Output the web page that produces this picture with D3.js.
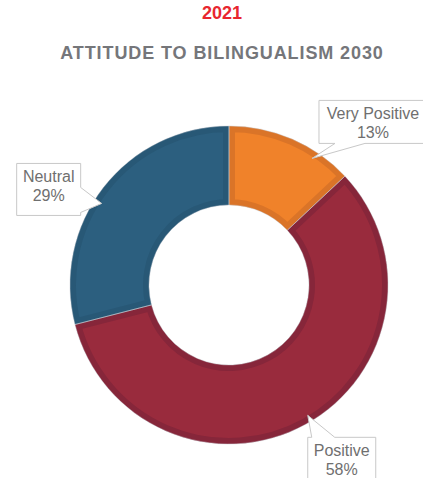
<!DOCTYPE html>
<html>
<head>
<meta charset="utf-8">
<script src="https://cdn.jsdelivr.net/npm/d3@7"></script>
<style>
  body { margin: 0; background: #fff; }
  text { font-family: "Liberation Sans", Arial, sans-serif; }
</style>
</head>
<body>
<div id="chart"></div>
<script>
// chart data
const categories = ["Very Positive", "Positive", "Neutral"];
const values = [13, 58, 29];
const colors = ["#F0822A", "#992B3D", "#2C5F7F"];
const borderColors = ["#DA7428", "#86263A", "#285876"];

// callout layout: tip nudge from the slice anchor, box offset from the tip, tail side
const callouts = [
  { tdx: 23, tdy: 12, dx: 7, dy: -58, w: 108, h: 43, side: "bottom" },
  { tdx: 6, tdy: -2, dx: 0, dy: 22, w: 68, h: 44, side: "top" },
  { tdx: -8, tdy: 11, dx: -85, dy: -40, w: 64, h: 52, side: "right" }
];

const width = 423, height = 478;
const cx = 229, cy = 285;
const outerR = 159, innerR = 80;

const svg = d3.select("#chart").append("svg")
  .attr("width", width)
  .attr("height", height);

svg.append("text")
  .attr("x", 222).attr("y", 19)
  .attr("text-anchor", "middle")
  .attr("font-size", 18).attr("font-weight", "bold")
  .attr("fill", "#E8262F")
  .text("2021");

svg.append("text")
  .attr("x", 222).attr("y", 59)
  .attr("text-anchor", "middle")
  .attr("font-size", 18).attr("font-weight", "bold")
  .attr("letter-spacing", 0.9)
  .attr("fill", "#75767A")
  .text("ATTITUDE TO BILINGUALISM 2030");

const pie = d3.pie().sort(null).value(d => d)(values);
const arc = d3.arc().innerRadius(innerR).outerRadius(outerR);

const g = svg.append("g").attr("transform", `translate(${cx},${cy})`);
const defs = svg.append("defs");

pie.forEach((p, i) => {
  defs.append("clipPath").attr("id", "clip" + i)
    .append("path").attr("d", arc(p));
});

// slices with a darker border drawn inside the slice
g.selectAll("path.slice")
  .data(pie)
  .join("path")
  .attr("class", "slice")
  .attr("d", arc)
  .attr("fill", (d, i) => colors[i])
  .attr("stroke", (d, i) => borderColors[i])
  .attr("stroke-width", 12)
  .attr("clip-path", (d, i) => `url(#clip${i})`);

// thin light separators
g.selectAll("path.sep")
  .data(pie)
  .join("path")
  .attr("class", "sep")
  .attr("d", arc)
  .attr("fill", "none")
  .attr("stroke", "#c9cdd2")
  .attr("stroke-opacity", 0.6)
  .attr("stroke-width", 0.8);

// callout labels
const labelG = svg.append("g");
pie.forEach((p, i) => {
  const c = callouts[i];
  const mid = (p.startAngle + p.endAngle) / 2;
  const r = outerR - 8;
  const tx = cx + r * Math.sin(mid) + c.tdx;
  const ty = cy - r * Math.cos(mid) + c.tdy;
  const x = tx + c.dx, y = ty + c.dy, w = c.w, h = c.h;
  const path = d3.path();
  path.moveTo(x, y);
  if (c.side === "top") {
    path.lineTo(x + 4, y);
    path.lineTo(tx, ty);
    path.lineTo(x + 27, y);
    path.lineTo(x + w, y);
    path.lineTo(x + w, y + h);
    path.lineTo(x, y + h);
  } else if (c.side === "bottom") {
    path.lineTo(x + w, y);
    path.lineTo(x + w, y + h);
    path.lineTo(x + 46, y + h);
    path.lineTo(tx, ty);
    path.lineTo(x + 16, y + h);
    path.lineTo(x, y + h);
  } else {
    path.lineTo(x + w, y);
    path.lineTo(x + w, y + 24);
    path.lineTo(tx, ty);
    path.lineTo(x + w, y + h - 3);
    path.lineTo(x + w, y + h);
    path.lineTo(x, y + h);
  }
  path.closePath();
  labelG.append("path")
    .attr("d", path.toString())
    .attr("fill", "#fff")
    .attr("stroke", "#c8c8c8")
    .attr("stroke-width", 1);
  const t = labelG.append("text")
    .attr("text-anchor", "middle")
    .attr("font-size", 16)
    .attr("fill", "#6f6f6f");
  t.append("tspan").attr("x", x + w / 2).attr("y", y + 19).text(categories[i]);
  t.append("tspan").attr("x", x + w / 2).attr("y", y + 38).text(values[i] + "%");
});
</script>
</body>
</html>
